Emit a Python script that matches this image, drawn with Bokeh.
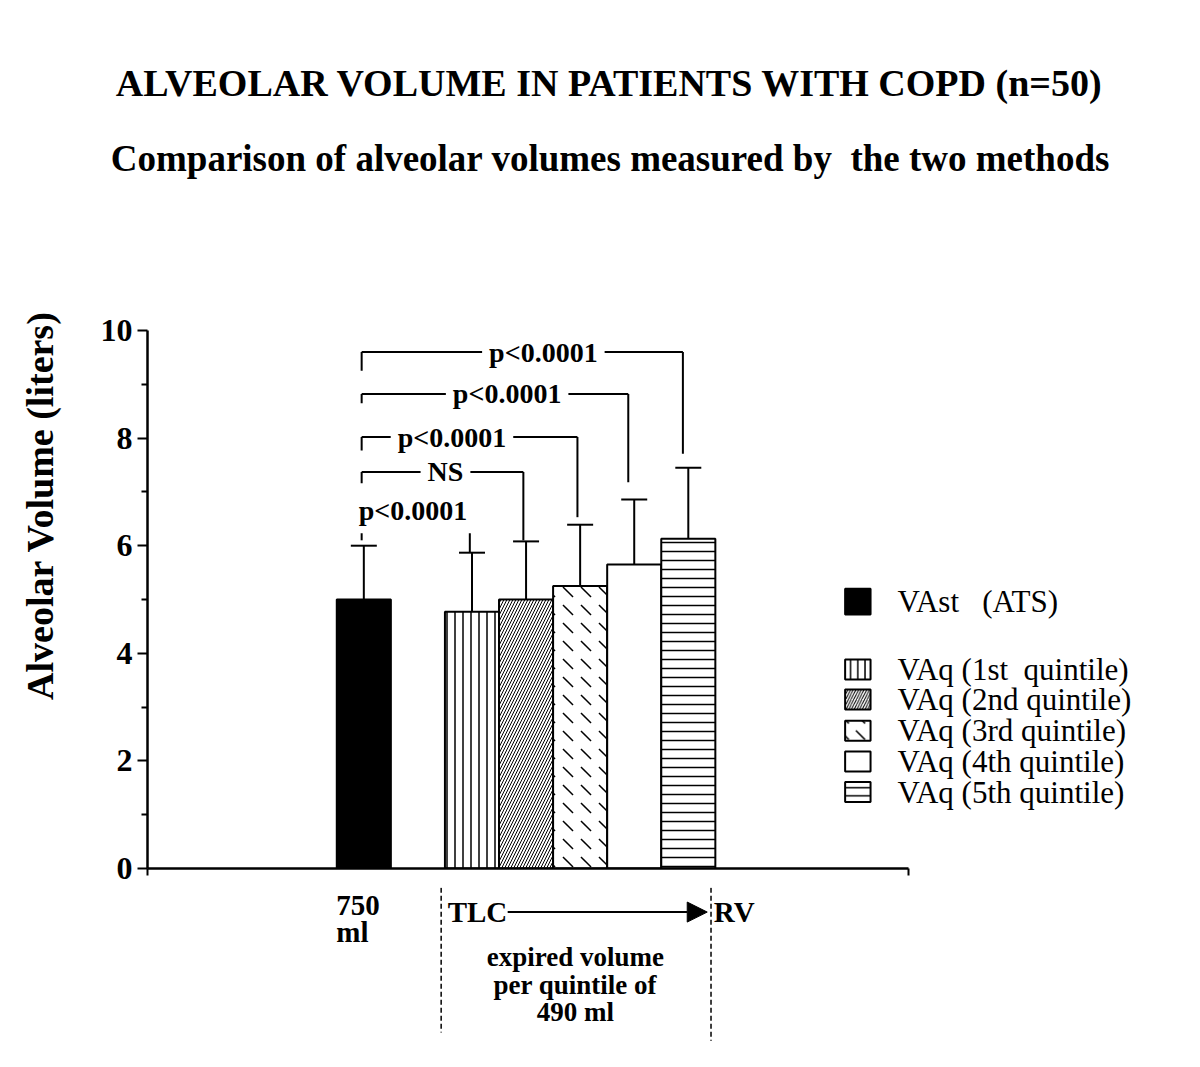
import numpy as np
from bokeh.plotting import figure
from bokeh.layouts import column, row
from bokeh.models import (ColumnDataSource, Range1d, FixedTicker, Label, BoxAnnotation,
                          Arrow, NormalHead, Whisker, TeeHead)
from bokeh.embed import file_html
from bokeh.resources import INLINE

# ---------------- data ----------------
groups = ["VAst\u00a0\u00a0 (ATS)", "VAq (1st\u00a0 quintile)", "VAq (2nd quintile)",
          "VAq (3rd quintile)", "VAq (4th quintile)", "VAq (5th quintile)"]
positions = [4, 6, 7, 8, 9, 10]
means = [5.0, 4.77, 5.0, 5.25, 5.65, 6.13]
sds = [1.0, 1.10, 1.08, 1.14, 1.21, 1.32]
fills = ["black", "white", "white", "white", "white", "white"]
patterns = ["blank", "vertical_line", "right_diagonal_line", "left_diagonal_dash", "blank", "horizontal_line"]
hscales = [8, 8, 6, 18, 8, 9]
hweights = [1, 1.5, 1.0, 1.5, 1, 1.5]

y_ticks = [0, 2, 4, 6, 8, 10]
y_minor = [1, 3, 5, 7, 9]

# significance brackets (from lowest to highest)
br_text = ["p<0.0001", "NS", "p<0.0001", "p<0.0001", "p<0.0001"]
br_left_x = [3.96, 3.96, 3.96, 3.96, 3.96]
br_right_x = [5.96, 6.95, 7.95, 8.89, 9.90]
br_level = [6.65, 7.37, 8.02, 8.82, 9.60]
br_left_bottom = [6.10, 7.16, 7.77, 8.65, 9.25]
br_left_top = [6.35, 7.37, 8.02, 8.82, 9.60]
br_right_top = [6.48, 7.37, 8.02, 8.82, 9.60]
br_right_bottom = [5.87, 6.10, 6.53, 7.18, 7.71]
br_text_x = [4.91, 5.51, 5.63, 6.65, 7.32]
br_has_line = [False, True, True, True, True]

legend_y = [4.96, 3.70, 3.14, 2.56, 1.99, 1.42]

FONT = "Liberation Serif"
PXX = 54.08   # pixels per x unit
PXY = 53.8    # pixels per y unit
GAP = 19      # space below the x axis inside the main figure


def blank_fig(w, h, xr, yr, left=0):
    f = figure(width=w, height=h, output_backend="svg", toolbar_location=None,
               x_range=xr, y_range=yr, x_axis_location=None, y_axis_location=None,
               min_border_left=left, min_border_right=0, min_border_top=0, min_border_bottom=0,
               frame_align=False)
    f.outline_line_color = None
    f.xgrid.grid_line_color = None
    f.ygrid.grid_line_color = None
    f.background_fill_color = "white"
    f.border_fill_color = "white"
    return f


src = ColumnDataSource(dict(
    x=positions, mean=means, upper=[m + s for m, s in zip(means, sds)],
    fill=fills, pattern=patterns, hscale=hscales, hweight=hweights))

# ---------------- main chart ----------------
p = figure(width=1094, height=628 + GAP, output_backend="svg", toolbar_location=None,
           x_range=Range1d(0, 1037 / PXX), y_range=Range1d(0, 10),
           min_border_left=57, min_border_right=0, min_border_top=90, min_border_bottom=GAP,
           frame_align=False)
p.outline_line_color = None
p.xgrid.grid_line_color = None
p.ygrid.grid_line_color = None
p.background_fill_color = "white"
p.border_fill_color = "white"

p.yaxis.ticker = FixedTicker(ticks=y_ticks, minor_ticks=y_minor)
p.yaxis.axis_line_width = 2.5
p.yaxis.major_tick_line_width = 2
p.yaxis.minor_tick_line_width = 2
p.yaxis.major_tick_out = 10
p.yaxis.major_tick_in = 0
p.yaxis.minor_tick_out = 6
p.yaxis.minor_tick_in = 0
p.yaxis.major_label_standoff = 5
p.yaxis.major_label_text_font = FONT
p.yaxis.major_label_text_font_style = "bold"
p.yaxis.major_label_text_font_size = "32px"
p.yaxis.major_label_text_color = "black"

p.xaxis.bounds = (0, 14.07)
p.xaxis.ticker = FixedTicker(ticks=[0, 14.07], minor_ticks=[])
p.xaxis.axis_line_width = 2.5
p.xaxis.major_tick_line_width = 2
p.xaxis.major_tick_out = 7
p.xaxis.major_tick_in = 0
p.xaxis.major_label_standoff = 0
p.xaxis.major_label_text_font_size = "0px"
p.xaxis.major_label_overrides = {0: "", 14.07: ""}

p.vbar(x="x", top="mean", bottom=0, width=1.0, source=src,
       fill_color="fill", line_color="black", line_width=2,
       hatch_pattern="pattern", hatch_scale="hscale", hatch_weight="hweight",
       hatch_color="black")

p.add_layout(Whisker(base="x", lower="mean", upper="upper", source=src,
                     line_color="black", line_width=2,
                     upper_head=TeeHead(size=26, line_width=2, line_color="black"),
                     lower_head=None))

xs, ys = [], []
for i in range(len(br_text)):
    xs.append([br_left_x[i], br_left_x[i]])
    ys.append([br_left_bottom[i], br_left_top[i]])
    xs.append([br_right_x[i], br_right_x[i]])
    ys.append([br_right_top[i], br_right_bottom[i]])
    if br_has_line[i]:
        xs.append([br_left_x[i], br_right_x[i]])
        ys.append([br_level[i], br_level[i]])
p.multi_line(xs=xs, ys=ys, line_color="black", line_width=2)

for i in range(len(br_text)):
    p.add_layout(Label(x=br_text_x[i], y=br_level[i], text=br_text[i],
                       text_font=FONT, text_font_style="bold", text_font_size="28px",
                       text_color="black", text_align="center", text_baseline="middle",
                       background_fill_color="white", padding=7))

for i in range(len(groups)):
    half = 0.24 if i == 0 else 0.186
    p.add_layout(BoxAnnotation(left=12.9, right=13.37,
                               bottom=legend_y[i] - half, top=legend_y[i] + half,
                               fill_color=fills[i], fill_alpha=1.0,
                               line_color="black", line_width=2, line_alpha=1.0,
                               hatch_pattern=patterns[i], hatch_scale=hscales[i] * 0.9,
                               hatch_weight=hweights[i], hatch_color="black"))
    p.add_layout(Label(x=13.87, y=legend_y[i], text=groups[i],
                       text_font=FONT, text_font_size="31px", text_color="black",
                       text_align="left", text_baseline="middle"))

# ---------------- title strip ----------------
top = blank_fig(1184, 240, Range1d(-147 / PXX, 1037 / PXX), Range1d(868 / PXY - 240 / PXY, 868 / PXY))
top.add_layout(Label(x=8.54, y=14.6, text="ALVEOLAR VOLUME IN PATIENTS WITH COPD (n=50)",
                     text_font=FONT, text_font_style="bold", text_font_size="38px",
                     text_color="black", text_align="center", text_baseline="middle"))
top.add_layout(Label(x=8.56, y=13.2, text="Comparison of alveolar volumes measured by\u00a0 the two methods",
                     text_font=FONT, text_font_style="bold", text_font_size="37px",
                     text_color="black", text_align="center", text_baseline="middle"))

# ---------------- y-label strip ----------------
left = blank_fig(90, 628 + GAP, Range1d(-147 / PXX, -57 / PXX), Range1d(-GAP / PXY, 628 / PXY))
left.add_layout(Label(x=-1.98, y=6.75, text="Alveolar Volume (liters)", angle=np.pi / 2,
                      text_font=FONT, text_font_style="bold", text_font_size="38px",
                      text_color="black", text_align="center", text_baseline="middle"))

# ---------------- strip below the axis ----------------
bot = blank_fig(1184, 183 - GAP, p.x_range, Range1d(-183 / PXY, -GAP / PXY), left=147)
below = [("750", 3.49, -0.68, "left", "29px"), ("ml", 3.49, -1.18, "left", "29px"),
         ("TLC", 5.55, -0.81, "left", "29px"), ("RV", 10.47, -0.81, "left", "29px"),
         ("expired volume", 7.91, -1.64, "center", "27px"),
         ("per quintile of", 7.91, -2.16, "center", "27px"),
         ("490 ml", 7.91, -2.66, "center", "27px")]
for t, bx, by, al, fs in below:
    bot.add_layout(Label(x=bx, y=by, text=t, text_font=FONT, text_font_style="bold",
                         text_font_size=fs, text_color="black",
                         text_align=al, text_baseline="middle"))
bot.add_layout(Arrow(start=None, end=None, x_start=5.43, y_start=-0.36, x_end=5.43, y_end=-3.05,
                     line_dash="5 3", line_width=1.5, line_color="black"))
bot.add_layout(Arrow(start=None, end=None, x_start=10.42, y_start=-0.36, x_end=10.42, y_end=-3.2,
                     line_dash="5 3", line_width=1.5, line_color="black"))
bot.add_layout(Arrow(end=NormalHead(size=20, fill_color="black", line_color="black"),
                     x_start=6.66, y_start=-0.81, x_end=10.35, y_end=-0.81,
                     line_width=2, line_color="black"))

layout = column(top, row(left, p), bot)
open("out.html", "w").write(file_html(layout, INLINE))
